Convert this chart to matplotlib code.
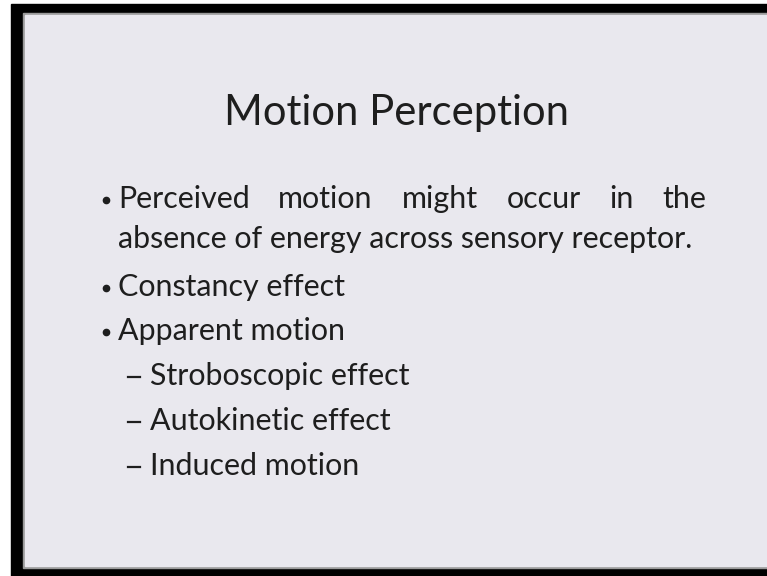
import matplotlib
matplotlib.use("Agg")
import matplotlib.pyplot as plt
from matplotlib.patches import Rectangle

title = "Motion Perception"
line1_words = ["Perceived", "motion", "might", "occur", "in", "the"]
line2 = "absence of energy across sensory receptor."
bullets = ["Constancy effect", "Apparent motion"]
sub_items = ["Stroboscopic effect", "Autokinetic effect", "Induced motion"]

FONT = "Lato"
TXT = "#1e1e1e"
BG = "#e9e8ee"

fig = plt.figure(figsize=(7.67, 5.76), dpi=100)
fig.patch.set_facecolor("white")
ax = fig.add_axes([0, 0, 1, 1])
ax.set_xlim(0, 767)
ax.set_ylim(576, 0)
ax.axis("off")
fig.canvas.draw()
r = fig.canvas.get_renderer()


def width_of(s, size):
    t = ax.text(0, 0, s, fontsize=size, family=FONT)
    w = t.get_window_extent(r).width
    t.remove()
    return w


# black frame around the slide, slide itself
ax.add_patch(Rectangle((11, 4), 756, 572, color="black", zorder=0))
ax.add_patch(Rectangle((23, 13), 744, 555, color="#9a9a9a", zorder=1))
ax.add_patch(Rectangle((25, 15), 742, 551, color=BG, zorder=2))

# size the fonts so the widths match the slide
tfs = 28 * 345 / width_of(title, 28)
fs = 20 * 577 / width_of(line2, 20)

ax.text(397, 125, title, fontsize=tfs, family=FONT, color=TXT,
        ha="center", va="baseline", zorder=3)

# justified first line
left, right = 118, 706
widths = [width_of(w, fs) for w in line1_words]
gap = (right - left - sum(widths)) / (len(line1_words) - 1)
x = left
for w, wd in zip(line1_words, widths):
    ax.text(x, 208, w, fontsize=fs, family=FONT, color=TXT, va="baseline", zorder=3)
    x += wd + gap
ax.text(left, 248, line2, fontsize=fs, family=FONT, color=TXT, va="baseline", zorder=3)

bullet_y = [208]
for i, b in enumerate(bullets):
    y = 296 + i * 44
    bullet_y.append(y)
    ax.text(left, y, b, fontsize=fs, family=FONT, color=TXT, va="baseline", zorder=3)
ax.plot([106] * len(bullet_y), [y - 8 for y in bullet_y], "o", ms=4.5,
        color=TXT, zorder=3)

for i, s in enumerate(sub_items):
    y = 385 + i * 45
    ax.plot([128, 140], [y - 8, y - 8], color=TXT, lw=1.6, zorder=3)
    ax.text(150, y, s, fontsize=fs, family=FONT, color=TXT, va="baseline", zorder=3)

fig.savefig("out.png", dpi=100, facecolor=fig.get_facecolor())
